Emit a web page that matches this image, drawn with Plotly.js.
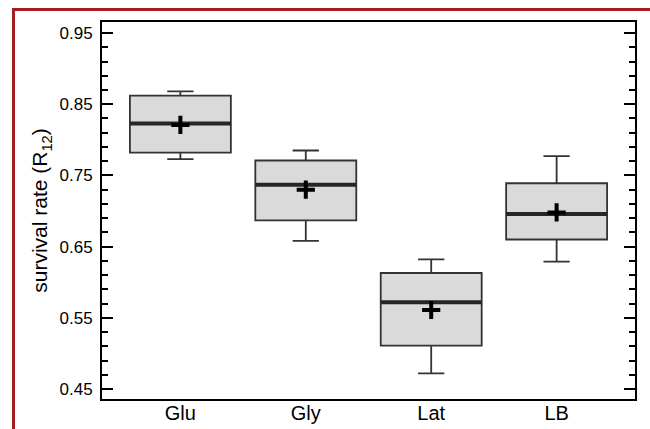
<!DOCTYPE html>
<html>
<head>
<meta charset="utf-8">
<script src="https://cdn.plot.ly/plotly-3.0.1.min.js"></script>
<style>
  html, body { margin: 0; padding: 0; background: #fff; }
  #wrap { position: relative; width: 650px; height: 429px; }
  #chart { width: 650px; height: 429px; }
  #frame { position: absolute; left: 12px; top: 8px; width: 700px; height: 500px;
           border-left: 3px solid #a41e22; border-top: 3px solid #a41e22; pointer-events: none; }
</style>
</head>
<body>
<div id="wrap">
  <div id="chart"></div>
  <div id="frame"></div>
</div>
<script>
// Data
const categories = ["Glu", "Gly", "Lat", "LB"];
const upperWhisker = [0.868, 0.785, 0.632, 0.777];
const q3Values     = [0.862, 0.771, 0.613, 0.739];
const medianValues = [0.823, 0.737, 0.572, 0.696];
const meanValues   = [0.821, 0.730, 0.561, 0.698];
const q1Values     = [0.782, 0.687, 0.511, 0.660];
const lowerWhisker = [0.773, 0.658, 0.472, 0.629];
const yTickVals = [0.45, 0.55, 0.65, 0.75, 0.85, 0.95];

const xPos = categories.map((c, i) => i);
const boxWidth = 0.805;

// Median segments (thick) drawn across each box
const medX = [], medY = [];
xPos.forEach((x, i) => {
  medX.push(x - boxWidth / 2, x + boxWidth / 2, null);
  medY.push(medianValues[i], medianValues[i], null);
});

const traces = [
  {
    type: "box",
    x: xPos,
    q1: q1Values,
    median: medianValues,
    q3: q3Values,
    lowerfence: lowerWhisker,
    upperfence: upperWhisker,
    width: boxWidth,
    whiskerwidth: 0.26,
    fillcolor: "#dadada",
    line: { color: "#333333", width: 1.8 },
    boxpoints: false,
    hoverinfo: "skip",
    showlegend: false
  },
  {
    type: "scatter",
    mode: "lines",
    x: medX,
    y: medY,
    line: { color: "#262626", width: 4 },
    hoverinfo: "skip",
    showlegend: false
  },
  {
    type: "scatter",
    mode: "markers",
    x: xPos,
    y: meanValues,
    marker: { symbol: "cross-thin", size: 13, color: "#000", line: { color: "#000", width: 4 } },
    hoverinfo: "skip",
    showlegend: false
  }
];

const layout = {
  width: 650,
  height: 429,
  margin: { l: 102, r: 15, t: 22, b: 30 },
  paper_bgcolor: "#ffffff",
  plot_bgcolor: "#ffffff",
  font: { family: "Liberation Sans, Arial, sans-serif", color: "#000" },
  showlegend: false,
  xaxis: {
    range: [-0.625, 3.625],
    tickmode: "array",
    tickvals: xPos,
    ticktext: categories,
    ticks: "",
    showgrid: false,
    zeroline: false,
    showline: true,
    linecolor: "#000",
    linewidth: 2,
    mirror: true,
    ticklabelstandoff: -5,
    tickfont: { size: 20, color: "#000" }
  },
  yaxis: {
    range: [0.436, 0.9655],
    tickmode: "array",
    tickvals: yTickVals,
    tickformat: ".2f",
    ticks: "inside",
    ticklen: 11,
    tickwidth: 2,
    tickcolor: "#000",
    minor: { dtick: 0.02, tick0: 0.45, ticks: "inside", ticklen: 6, tickwidth: 2, tickcolor: "#000", showgrid: false },
    showgrid: false,
    zeroline: false,
    showline: true,
    linecolor: "#000",
    linewidth: 2,
    mirror: "ticks",
    ticklabelstandoff: 4,
    tickfont: { size: 17, color: "#000" },
    title: { text: "survival rate (R<sub>12</sub>)", font: { size: 21, color: "#000" }, standoff: 6 }
  }
};

Plotly.newPlot("chart", traces, layout, { staticPlot: true, displayModeBar: false });
</script>
</body>
</html>
